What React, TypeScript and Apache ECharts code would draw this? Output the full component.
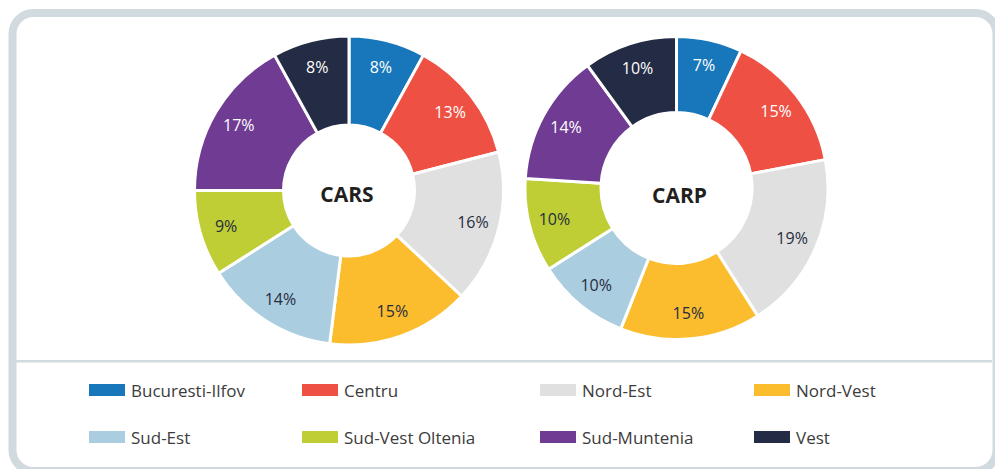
import React, { useEffect, useRef } from "react";
import * as echarts from "echarts";

const regions = [
  "Bucuresti-Ilfov",
  "Centru",
  "Nord-Est",
  "Nord-Vest",
  "Sud-Est",
  "Sud-Vest Oltenia",
  "Sud-Muntenia",
  "Vest",
];
const carsValues = [8, 13, 16, 15, 14, 9, 17, 8];
const carpValues = [7, 15, 19, 15, 10, 10, 14, 10];
const regionColors = [
  "#1777BA",
  "#EF5044",
  "#E0E0E0",
  "#FBBC2D",
  "#ABCDE0",
  "#BFCE34",
  "#6F3B93",
  "#232B45",
];
const labelColors = ["#ffffff", "#ffffff", "#262C40", "#262C40", "#262C40", "#262C40", "#ffffff", "#ffffff"];
const legendColumns = [
  ["Bucuresti-Ilfov", "Sud-Est"],
  ["Centru", "Sud-Vest Oltenia"],
  ["Nord-Est", "Sud-Muntenia"],
  ["Nord-Vest", "Vest"],
];
const legendLefts = [87, 300, 538, 752];

const FONT = "'Open Sans', 'Noto Sans', sans-serif";
const CARS_CENTER = [349, 190.5];
const CARP_CENTER = [676.5, 188];

function ringData(values: number[]) {
  return regions.map((name, i) => ({
    name,
    value: values[i],
    itemStyle: { color: regionColors[i] },
  }));
}

function labelData(values: number[]) {
  return regions.map((name, i) => ({
    name,
    value: values[i],
    itemStyle: { color: "rgba(0,0,0,0)" },
    label: { color: labelColors[i] },
  }));
}

function ring(name: string, center: number[], radius: number[], values: number[]) {
  return {
    type: "pie",
    name,
    center,
    radius,
    startAngle: 90,
    clockwise: true,
    avoidLabelOverlap: false,
    label: { show: false },
    labelLine: { show: false },
    emphasis: { disabled: true },
    itemStyle: { borderColor: "#ffffff", borderWidth: 3 },
    data: ringData(values),
  };
}

function labels(name: string, center: number[], radius: number[], values: number[]) {
  return {
    type: "pie",
    name: name + "-labels",
    center,
    radius,
    startAngle: 90,
    clockwise: true,
    silent: true,
    avoidLabelOverlap: false,
    label: {
      show: true,
      position: "inside",
      formatter: "{c}%",
      fontFamily: FONT,
      fontSize: 16,
    },
    labelLine: { show: false },
    emphasis: { disabled: true },
    itemStyle: { borderWidth: 0 },
    data: labelData(values),
  };
}

export default function App() {
  const ref = useRef<HTMLDivElement>(null);
  useEffect(() => {
    if (!ref.current) return;
    const chart = echarts.init(ref.current, undefined, { renderer: "svg" });
    chart.setOption({
      animation: false,
      backgroundColor: "#ffffff",
      legend: legendColumns.map((col, i) => ({
        orient: "vertical",
        left: legendLefts[i],
        top: 380,
        padding: 0,
        itemGap: 27,
        itemWidth: 38,
        itemHeight: 14,
        icon: "rect",
        selectedMode: false,
        textStyle: { fontFamily: FONT, fontSize: 17, lineHeight: 20, color: "#3C3C3C" },
        data: col,
      })),
      series: [
        ring("CARS", CARS_CENTER, [65.5, 154.5], carsValues),
        labels("CARS", CARS_CENTER, [97, 153], carsValues),
        ring("CARP", CARP_CENTER, [75.5, 151.5], carpValues),
        labels("CARP", CARP_CENTER, [96, 150], carpValues),
      ],
      graphic: [
        {
          type: "rect",
          shape: { x: 12.5, y: 13, width: 984, height: 458, r: 21 },
          style: { fill: "none", stroke: "#D1DADF", lineWidth: 8 },
          silent: true,
        },
        {
          type: "line",
          shape: { x1: 16, y1: 361.3, x2: 992, y2: 361.3 },
          style: { stroke: "#D1DADF", lineWidth: 2.5 },
          silent: true,
        },
        {
          type: "text",
          x: CARS_CENTER[0] - 2,
          y: CARS_CENTER[1] + 3,
          style: {
            text: "CARS",
            fontFamily: FONT,
            fontSize: 21,
            fontWeight: "bold",
            fill: "#231F20",
            textAlign: "center",
            textVerticalAlign: "middle",
          },
        },
        {
          type: "text",
          x: CARP_CENTER[0] + 3,
          y: CARP_CENTER[1] + 7,
          style: {
            text: "CARP",
            fontFamily: FONT,
            fontSize: 21,
            fontWeight: "bold",
            fill: "#231F20",
            textAlign: "center",
            textVerticalAlign: "middle",
          },
        },
      ],
    });
    return () => chart.dispose();
  }, []);
  return (
    <div
      ref={ref}
      style={{ position: "absolute", left: 0, top: 0, width: 995, height: 469, background: "#ffffff" }}
    />
  );
}
